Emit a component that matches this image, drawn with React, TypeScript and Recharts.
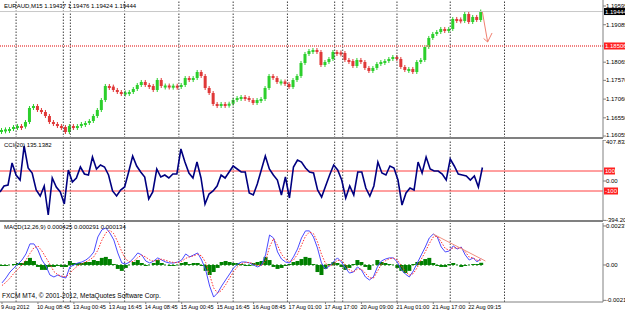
import React from 'react';
import { ComposedChart, Bar, Line, XAxis, YAxis, ReferenceLine } from 'recharts';

const FONT = '"Liberation Sans", Arial, sans-serif';
const W = 625;
const TOTAL_SLOTS = 151;
const NUM_DOMAIN: [number, number] = [-0.5, 150.5];
const PRICE_DOMAIN: [number, number] = [1.16001, 1.19758];
const CCI_DOMAIN: [number, number] = [-400, 410];
const MACD_DOMAIN: [number, number] = [-0.00225, 0.00255];

// EURAUD M15 closes (one sample per ~4px of the original chart)
const closes = [
  1.16219, 1.16235, 1.16246, 1.16300, 1.16327, 1.16310, 1.16436, 1.16818, 1.16872, 1.16763,
  1.16709, 1.16600, 1.16436, 1.16382, 1.16327, 1.16300, 1.16164, 1.16327, 1.16300, 1.16327,
  1.16382, 1.16409, 1.16464, 1.16600, 1.16763, 1.17035, 1.17417, 1.17400, 1.17308, 1.17253,
  1.17226, 1.17240, 1.17253, 1.17335, 1.17444, 1.17526, 1.17444, 1.17417, 1.17308, 1.17580,
  1.17417, 1.17430, 1.17410, 1.17425, 1.17417, 1.17444, 1.17634, 1.17607, 1.17634, 1.17798,
  1.17689, 1.17362, 1.17226, 1.16927, 1.16872, 1.16927, 1.16915, 1.16935, 1.17035, 1.17090,
  1.17117, 1.17090, 1.17035, 1.16954, 1.17035, 1.17063, 1.17362, 1.17689, 1.17634, 1.17526,
  1.17540, 1.17471, 1.17389, 1.17580, 1.17689, 1.18043, 1.18288, 1.18370, 1.18397, 1.18342,
  1.17988, 1.18070, 1.18152, 1.18342, 1.18330, 1.18315, 1.18125, 1.18097, 1.17961, 1.18125,
  1.18070, 1.17907, 1.17825, 1.17907, 1.18016, 1.18070, 1.18097, 1.18152, 1.18206, 1.18152,
  1.17934, 1.17852, 1.17880, 1.17798, 1.18070, 1.18125, 1.18479, 1.18724, 1.18833, 1.18887,
  1.18969, 1.18914, 1.18969, 1.19241, 1.19230, 1.19187, 1.19377, 1.19159, 1.19296, 1.19214,
  1.19444,
];

const cciValues = [
  -110, -50, -40, 180, 60, 10, 350, 130, 80, -90,
  -150, -50, -340, 30, -60, -110, -230, 110, -10, 30,
  140, 70, 60, 240, 120, 160, 140, 60, -100, -150,
  -90, -60, 90, 250, 150, 90, 40, -180, -110, 120,
  40, 60, 30, 70, 70, 320, 190, 80, 30, 190,
  30, -230, -130, -100, -50, 60, 30, 90, 150, 120,
  90, 90, -120, -140, -30, 110, 250, 120, 60, 10,
  -140, 40, -170, 140, 210, 190, 130, 90, 80, -90,
  -160, -50, 60, 160, 110, 10, -170, -50, -140, 90,
  90, -70, -150, -50, 190, 80, 60, 150, 130, 10,
  -240, -120, -70, -90, 190, 80, 240, 120, 100, 100,
  70, 10, 220, 150, 70, 60, 50, 10, 50, -60,
  135.1382,
];

const macdMain = [
  -0.00109, -0.00079, -0.00043, -0.00018, 0.00006, 0.00030, 0.00067, 0.00128, 0.00128, 0.00091,
  0.00030, -0.00006, -0.00061, -0.00073, -0.00061, -0.00073, -0.00079, -0.00012, 0.00000, 0.00012,
  0.00018, 0.00030, 0.00049, 0.00079, 0.00170, 0.00213, 0.00225, 0.00195, 0.00152, 0.00073,
  0.00012, 0.00006, 0.00018, 0.00043, 0.00073, 0.00061, 0.00024, 0.00012, 0.00024, 0.00043,
  0.00030, 0.00018, 0.00012, 0.00012, 0.00018, 0.00030, 0.00067, 0.00049, 0.00061, 0.00073,
  0.00030, -0.00030, -0.00128, -0.00195, -0.00170, -0.00128, -0.00091, -0.00055, -0.00018, 0.00006,
  0.00018, 0.00018, 0.00012, 0.00000, -0.00012, 0.00000, 0.00061, 0.00182, 0.00164, 0.00079,
  0.00036, 0.00018, 0.00012, 0.00049, 0.00097, 0.00164, 0.00207, 0.00207, 0.00170, 0.00103,
  0.00012, -0.00024, -0.00006, 0.00018, 0.00043, 0.00018, -0.00018, -0.00049, -0.00043, -0.00012,
  -0.00030, -0.00073, -0.00091, -0.00073, -0.00012, 0.00024, 0.00036, 0.00043, 0.00043, 0.00018,
  -0.00030, -0.00055, -0.00073, -0.00036, 0.00012, 0.00061, 0.00109, 0.00164, 0.00188, 0.00170,
  0.00109, 0.00079, 0.00085, 0.00116, 0.00097, 0.00109, 0.00061, 0.00030, 0.00043, 0.00018,
  0.000425,
];

const macdSignal = [
  -0.00125, -0.00105, -0.00080, -0.00050, -0.00025, 0.00000, 0.00030, 0.00070, 0.00105, 0.00115,
  0.00085, 0.00045, 0.00005, -0.00040, -0.00060, -0.00068, -0.00072, -0.00050, -0.00025, -0.00005,
  0.00008, 0.00018, 0.00032, 0.00050, 0.00090, 0.00150, 0.00195, 0.00210, 0.00190, 0.00140,
  0.00080, 0.00035, 0.00018, 0.00022, 0.00045, 0.00060, 0.00048, 0.00030, 0.00022, 0.00030,
  0.00035, 0.00028, 0.00020, 0.00015, 0.00015, 0.00022, 0.00040, 0.00050, 0.00055, 0.00065,
  0.00055, 0.00015, -0.00060, -0.00140, -0.00170, -0.00155, -0.00120, -0.00080, -0.00040, -0.00010,
  0.00008, 0.00015, 0.00015, 0.00008, -0.00004, -0.00004, 0.00025, 0.00110, 0.00160, 0.00120,
  0.00065, 0.00035, 0.00020, 0.00030, 0.00065, 0.00120, 0.00175, 0.00200, 0.00190, 0.00140,
  0.00065, 0.00010, -0.00008, 0.00005, 0.00028, 0.00028, 0.00002, -0.00030, -0.00042, -0.00025,
  -0.00025, -0.00050, -0.00078, -0.00080, -0.00040, 0.00005, 0.00025, 0.00038, 0.00042, 0.00030,
  -0.00005, -0.00040, -0.00062, -0.00052, -0.00015, 0.00035, 0.00080, 0.00130, 0.00170, 0.00175,
  0.00140, 0.00100, 0.00090, 0.00105, 0.00102, 0.00105, 0.00080, 0.00048, 0.00042, 0.00028,
  0.000291,
];

const macdHist = [
  -0.00006, -0.00006, 0.00000, 0.00006, 0.00012, 0.00012, 0.00024, 0.00043, 0.00024, -0.00012,
  -0.00030, -0.00030, -0.00012, -0.00012, -0.00006, -0.00012, -0.00012, 0.00024, 0.00012, 0.00012,
  0.00012, 0.00018, 0.00018, 0.00030, 0.00024, 0.00043, 0.00049, 0.00036, 0.00006, -0.00024,
  -0.00036, -0.00018, 0.00000, 0.00018, 0.00030, 0.00012, -0.00006, 0.00000, 0.00012, 0.00030,
  0.00012, 0.00000, -0.00006, -0.00006, 0.00000, 0.00012, 0.00018, 0.00006, 0.00012, 0.00012,
  -0.00006, -0.00036, -0.00061, -0.00043, -0.00018, 0.00018, 0.00024, 0.00018, 0.00012, 0.00012,
  0.00006, -0.00006, -0.00006, 0.00012, 0.00018, 0.00024, 0.00049, 0.00030, -0.00012, -0.00024,
  -0.00018, -0.00006, 0.00006, 0.00018, 0.00024, 0.00036, 0.00049, 0.00043, 0.00006, -0.00043,
  -0.00061, -0.00024, 0.00006, 0.00018, 0.00012, -0.00012, -0.00030, -0.00018, 0.00006, 0.00030,
  0.00018, -0.00012, -0.00030, 0.00000, 0.00030, 0.00018, 0.00012, 0.00006, 0.00000, -0.00018,
  -0.00036, -0.00049, -0.00036, 0.00006, 0.00018, 0.00024, 0.00036, 0.00043, 0.00012, -0.00006,
  -0.00012, -0.00012, 0.00006, 0.00012, 0.00000, -0.00012, -0.00006, 0.00000, 0.00006, 0.00006,
  0.000134,
];

const timeLabels = [
  '9 Aug 2012', '10 Aug 08:45', '13 Aug 00:45', '13 Aug 16:45', '14 Aug 08:45', '15 Aug 00:45',
  '15 Aug 16:45', '16 Aug 08:45', '17 Aug 01:00', '17 Aug 17:00', '20 Aug 09:00', '21 Aug 01:00',
  '21 Aug 17:00', '22 Aug 09:15',
];
const timeTickIndex = [0, 9, 18, 27, 36, 45, 54, 63, 72, 81, 90, 99, 108, 117];
const separatorIndex = [4, 15.75, 17.5, 31, 44.5, 58, 71.5, 83.25, 85.25, 98.75, 112, 125.5];

const priceTicks = [1.19595, 1.19085, 1.18065, 1.1757, 1.1706, 1.1655, 1.16055];
const bidPrice = 1.19444;
const levelPrice = 1.18506;
const cciTicks = [407.832, 0, -394.203];
const cciLevels = [100, -100];
const macdTicks = [0.00237, 0, -0.00215];

// hand-drawn objects (time index, value)
const arrowSegments = [
  [{ x: 120, y: 1.19432 }, { x: 121.3, y: 1.18615 }],
  [{ x: 120.3, y: 1.18710 }, { x: 121.3, y: 1.18615 }],
  [{ x: 122.4, y: 1.18860 }, { x: 121.3, y: 1.18615 }],
];
const macdTrend = [{ x: 107.75, y: 0.00188 }, { x: 120.75, y: 0.00024 }];
const macdZeroSpan = [{ x: 0, y: 0 }, { x: 120, y: 0 }];

const rows = Array.from({ length: TOTAL_SLOTS }, (_, i) => {
  if (i >= closes.length) return { i };
  const c = closes[i];
  const open = i === 0 ? c : closes[i - 1];
  return {
    i,
    body: [Math.min(open, c), Math.max(open, c)],
    up: c >= open,
    cci: cciValues[i],
    macd: macdMain[i],
    signal: macdSignal[i],
    hist: macdHist[i],
  };
});

const Candle = (props: any) => {
  const { x, y, width, height, payload } = props;
  if (x == null || y == null || !payload || payload.body == null) return null;
  let top = y;
  let h = height || 0;
  if (h < 0) { top = y + h; h = -h; }
  h = Math.max(h, 2);
  const color = payload.up ? '#2ccf2c' : '#e03838';
  const cx = x + width / 2;
  return (
    <g>
      <line x1={cx} x2={cx} y1={top - 2} y2={top + h + 2} stroke={color} strokeWidth={1} />
      <rect x={x} y={top} width={width} height={h} fill={color} />
    </g>
  );
};

const AxisTick = (props: any) => {
  const { x, y, payload, fmt, lowValue, highValue } = props;
  let dy = 2;
  if (lowValue != null && payload.value === lowValue) dy = 0.5;
  if (highValue != null && payload.value === highValue) dy = 3.5;
  return (
    <text x={x} y={y} dy={dy} fontSize={6} fontFamily={FONT} fill="#000" textAnchor="start">
      {fmt(payload.value)}
    </text>
  );
};

const TimeTick = (props: any) => {
  const { x, y, payload } = props;
  const k = timeTickIndex.indexOf(Number(payload.value));
  return (
    <text x={x - 1} y={y} dy={4} fontSize={5.6} fontFamily={FONT} fill="#000" textAnchor="start">
      {k >= 0 ? timeLabels[k] : ''}
    </text>
  );
};

const BoxLabel = (props: any) => {
  const { viewBox, text, bg, fg, w } = props;
  if (!viewBox) return null;
  const x = viewBox.x + viewBox.width + 1;
  const y = viewBox.y;
  return (
    <g>
      <rect x={x} y={y - 3.5} width={w} height={7} fill={bg} />
      <text x={x + 1} y={y + 2.2} fontSize={6} fontFamily={FONT} fill={fg}>{text}</text>
    </g>
  );
};

const separators = (key: string) =>
  separatorIndex.map((s, k) => (
    <ReferenceLine key={key + k} xAxisId="num" x={s} stroke="#404040" strokeDasharray="1.5 1.5" ifOverflow="visible" />
  ));

const priceFmt = (v: number) => v.toFixed(5);
const cciFmt = (v: number) => (v === 0 ? '0.00' : String(v));
const macdFmt = (v: number) => (v === 0 ? '0.00' : v.toFixed(5));

const textStyle: React.CSSProperties = {
  position: 'absolute',
  fontFamily: FONT,
  fontSize: 6,
  lineHeight: '8px',
  whiteSpace: 'nowrap',
  color: '#000',
};

const margin = { top: 0, right: 0, bottom: 0, left: 0 };

export default function App() {
  return (
    <div style={{ position: 'absolute', left: 0, top: 0, width: W, height: 313, background: '#fff', overflow: 'hidden' }}>
      <div style={{ position: 'absolute', left: 0, top: 0 }}>
        <ComposedChart width={W} height={140} data={rows} margin={margin} barCategoryGap={0} barGap={0}>
          <XAxis type="category" dataKey="i" height={2} tick={false} tickLine={false}
            axisLine={{ stroke: '#808080', strokeWidth: 2 }} />
          <XAxis xAxisId="num" type="number" domain={NUM_DOMAIN} allowDataOverflow hide />
          <YAxis orientation="right" width={22} domain={PRICE_DOMAIN} allowDataOverflow ticks={priceTicks} interval={0}
            tick={<AxisTick fmt={priceFmt} lowValue={1.16055} />} tickSize={3} tickMargin={0} tickLine={{ stroke: '#808080' }} axisLine={{ stroke: '#808080' }} />
          {separators('p')}
          <ReferenceLine y={bidPrice} stroke="#c8c8c8" label={<BoxLabel text="1.19444" bg="#000" fg="#fff" w={22} />} />
          <ReferenceLine y={levelPrice} stroke="#f08080" strokeWidth={2} strokeDasharray="1 1"
            label={<BoxLabel text="1.18506" bg="#ff2020" fg="#fff" w={22} />} />
          <Bar dataKey="body" shape={<Candle />} barSize={3} isAnimationActive={false} />
          {arrowSegments.map((seg, k) => (
            <ReferenceLine key={'a' + k} xAxisId="num" segment={seg} stroke="#f08070" strokeWidth={1} ifOverflow="visible" />
          ))}
        </ComposedChart>
      </div>
      <div style={{ position: 'absolute', left: 0, top: 140 }}>
        <ComposedChart width={W} height={83} data={rows} margin={margin}>
          <XAxis type="category" dataKey="i" height={2} tick={false} tickLine={false}
            axisLine={{ stroke: '#808080', strokeWidth: 2 }} />
          <XAxis xAxisId="num" type="number" domain={NUM_DOMAIN} allowDataOverflow hide />
          <YAxis orientation="right" width={22} domain={CCI_DOMAIN} allowDataOverflow ticks={cciTicks} interval={0}
            tick={<AxisTick fmt={cciFmt} highValue={407.832} />} tickSize={3} tickMargin={0} tickLine={{ stroke: '#808080' }} axisLine={{ stroke: '#808080' }} />
          {separators('c')}
          {cciLevels.map((lv, k) => (
            <ReferenceLine key={'l' + k} y={lv} stroke="#ff4040" strokeWidth={1}
              label={<BoxLabel text={String(lv)} bg="#ff2020" fg="#fff" w={lv < 0 ? 14 : 11} />} />
          ))}
          <Line type="linear" dataKey="cci" stroke="#000080" strokeWidth={1.6} dot={false} isAnimationActive={false} />
        </ComposedChart>
      </div>
      <div style={{ position: 'absolute', left: 0, top: 223 }}>
        <ComposedChart width={W} height={90} data={rows} margin={margin} barCategoryGap={0} barGap={0}>
          <XAxis type="category" dataKey="i" height={11} ticks={timeTickIndex} interval={0}
            tick={<TimeTick />} tickSize={2} tickMargin={1} tickLine={{ stroke: '#808080' }} axisLine={{ stroke: '#808080' }} />
          <XAxis xAxisId="num" type="number" domain={NUM_DOMAIN} allowDataOverflow hide />
          <YAxis orientation="right" width={22} domain={MACD_DOMAIN} allowDataOverflow ticks={macdTicks} interval={0}
            tick={<AxisTick fmt={macdFmt} />} tickSize={3} tickMargin={0} tickLine={{ stroke: '#808080' }} axisLine={{ stroke: '#808080' }} />
          {separators('m')}
          <ReferenceLine xAxisId="num" segment={macdZeroSpan} stroke="#008000" strokeDasharray="2 2" ifOverflow="visible" />
          <Bar dataKey="hist" fill="#008000" isAnimationActive={false} />
          <Line type="linear" dataKey="macd" stroke="#4a4aff" strokeWidth={1} dot={false} isAnimationActive={false} />
          <Line type="linear" dataKey="signal" stroke="#ff3030" strokeWidth={1} strokeDasharray="1.5 1.5" dot={false} isAnimationActive={false} />
          <ReferenceLine xAxisId="num" segment={macdTrend} stroke="#f09080" strokeWidth={1} ifOverflow="visible" />
        </ComposedChart>
      </div>
      <div style={{ ...textStyle, left: 4, top: 2 }}>EURAUD,M15  1.19437 1.19476 1.19424 1.19444</div>
      <div style={{ ...textStyle, left: 4, top: 141 }}>CCI(20) 135.1382</div>
      <div style={{ ...textStyle, left: 4, top: 223 }}>MACD(12,26,9) 0.000425 0.000291 0.000134</div>
      <div style={{ ...textStyle, left: 2, top: 292, fontSize: 6.5 }}>FXCM MT4, © 2001-2012, MetaQuotes Software Corp.</div>
    </div>
  );
}
